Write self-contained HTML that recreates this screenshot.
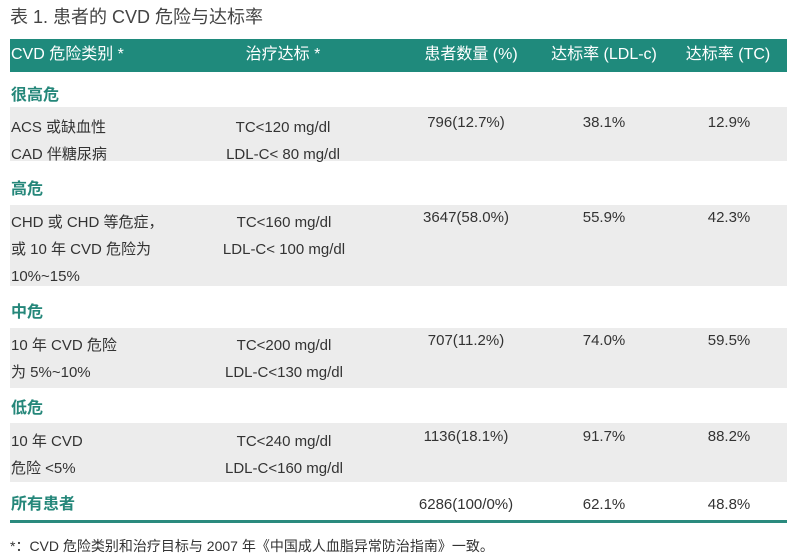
<!DOCTYPE html>
<html><head><meta charset="utf-8"><style>
body{margin:0;width:798px;height:559px;background:#fff;position:relative;overflow:hidden;font-family:"Liberation Sans","Noto Sans CJK SC",sans-serif;color:#333;}
.a{position:absolute;white-space:nowrap;font-size:15px;line-height:18px;}
.c{transform:translateX(-50%);}
.band{position:absolute;left:10px;width:777px;background:#ececec;}
.g{color:#25877a;font-weight:bold;font-size:16px;}
.h{color:#fff;font-size:16px;}
</style></head><body>
<div class="a" style="left:10px;top:6px;font-size:18px;line-height:22px;color:#444">表 1. 患者的 CVD 危险与达标率</div>
<div style="position:absolute;left:10px;top:39px;width:777px;height:33px;background:#1f8a7c"></div>
<div class="a h" style="left:11px;top:46px">CVD 危险类别 *</div>
<div class="a h c" style="left:283px;top:46px">治疗达标 *</div>
<div class="a h c" style="left:471px;top:46px">患者数量 (%)</div>
<div class="a h c" style="left:604px;top:46px">达标率 (LDL-c)</div>
<div class="a h c" style="left:728px;top:46px">达标率 (TC)</div>

<div class="band" style="top:107px;height:54px"></div>
<div class="band" style="top:205px;height:81px"></div>
<div class="band" style="top:328px;height:60px"></div>
<div class="band" style="top:423px;height:59px"></div>

<div class="a g" style="left:11px;top:87px">很高危</div>
<div class="a" style="left:11px;top:114px;line-height:27px">ACS 或缺血性<br>CAD 伴糖尿病</div>
<div class="a c" style="left:283px;top:114px;line-height:27px;text-align:center">TC&lt;120 mg/dl<br>LDL-C&lt; 80 mg/dl</div>
<div class="a c" style="left:466px;top:114px">796(12.7%)</div>
<div class="a c" style="left:604px;top:114px">38.1%</div>
<div class="a c" style="left:729px;top:114px">12.9%</div>

<div class="a g" style="left:11px;top:181px">高危</div>
<div class="a" style="left:11px;top:209px;line-height:27px">CHD 或 CHD 等危症，<br>或 10 年 CVD 危险为<br>10%~15%</div>
<div class="a c" style="left:284px;top:209px;line-height:27px;text-align:center">TC&lt;160 mg/dl<br>LDL-C&lt; 100 mg/dl</div>
<div class="a c" style="left:466px;top:209px">3647(58.0%)</div>
<div class="a c" style="left:604px;top:209px">55.9%</div>
<div class="a c" style="left:729px;top:209px">42.3%</div>

<div class="a g" style="left:11px;top:304px">中危</div>
<div class="a" style="left:11px;top:332px;line-height:27px">10 年 CVD 危险<br>为 5%~10%</div>
<div class="a c" style="left:284px;top:332px;line-height:27px;text-align:center">TC&lt;200 mg/dl<br>LDL-C&lt;130 mg/dl</div>
<div class="a c" style="left:466px;top:332px">707(11.2%)</div>
<div class="a c" style="left:604px;top:332px">74.0%</div>
<div class="a c" style="left:729px;top:332px">59.5%</div>

<div class="a g" style="left:11px;top:400px">低危</div>
<div class="a" style="left:11px;top:428px;line-height:27px">10 年 CVD<br>危险 &lt;5%</div>
<div class="a c" style="left:284px;top:428px;line-height:27px;text-align:center">TC&lt;240 mg/dl<br>LDL-C&lt;160 mg/dl</div>
<div class="a c" style="left:466px;top:428px">1136(18.1%)</div>
<div class="a c" style="left:604px;top:428px">91.7%</div>
<div class="a c" style="left:729px;top:428px">88.2%</div>

<div class="a g" style="left:11px;top:496px">所有患者</div>
<div class="a c" style="left:466px;top:496px">6286(100/0%)</div>
<div class="a c" style="left:604px;top:496px">62.1%</div>
<div class="a c" style="left:729px;top:496px">48.8%</div>
<div style="position:absolute;left:10px;top:520px;width:777px;height:3px;background:#2a8a7e"></div>

<div class="a" style="left:10px;top:537px;font-size:14px">*：CVD 危险类别和治疗目标与 2007 年《中国成人血脂异常防治指南》一致。</div>
</body></html>
